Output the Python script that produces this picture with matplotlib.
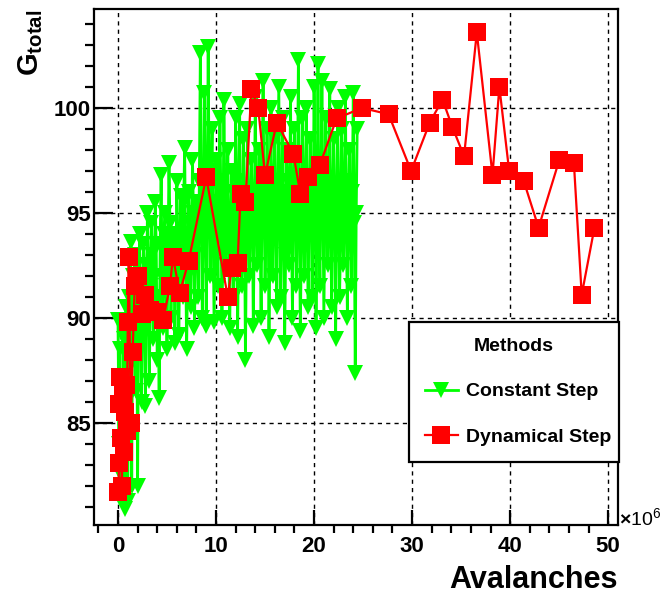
import matplotlib
matplotlib.use("Agg")
import matplotlib.pyplot as plt

plt.rcParams["font.family"] = ["Liberation Sans", "DejaVu Sans"]
plt.rcParams["font.weight"] = "bold"
plt.rcParams["mathtext.fontset"] = "custom"
plt.rcParams["mathtext.rm"] = "Liberation Sans:bold"
plt.rcParams["mathtext.bf"] = "Liberation Sans:bold"

# Constant step: gain vs number of avalanches (x in units of 1e6)
const_x = [0.0, 0.1, 0.2, 0.3, 0.4, 0.5, 0.6, 0.7, 0.8, 0.9, 1.0,
           1.1, 1.2, 1.3, 1.4, 1.5, 1.6, 1.7, 1.8, 1.9, 2.0,
           2.1, 2.2, 2.3, 2.4, 2.5, 2.6, 2.7, 2.8, 2.9, 3.0,
           3.1, 3.2, 3.3, 3.4, 3.5, 3.6, 3.7, 3.8, 3.9, 4.0,
           4.1, 4.2, 4.3, 4.4, 4.5, 4.6, 4.7, 4.8, 4.9, 5.0,
           5.1, 5.2, 5.3, 5.4, 5.5, 5.6, 5.7, 5.8, 5.9, 6.0,
           6.1, 6.2, 6.3, 6.4, 6.5, 6.6, 6.7, 6.8, 6.9, 7.0,
           7.1, 7.2, 7.3, 7.4, 7.5, 7.6, 7.7, 7.8, 7.9, 8.0,
           8.1, 8.2, 8.3, 8.4, 8.5, 8.6, 8.7, 8.8, 8.9, 9.0,
           9.1, 9.2, 9.3, 9.4, 9.5, 9.6, 9.7, 9.8, 9.9, 10.0,
           10.1, 10.2, 10.3, 10.4, 10.5, 10.6, 10.7, 10.8, 10.9, 11.0,
           11.1, 11.2, 11.3, 11.4, 11.5, 11.6, 11.7, 11.8, 11.9, 12.0,
           12.1, 12.2, 12.3, 12.4, 12.5, 12.6, 12.7, 12.8, 12.9, 13.0,
           13.1, 13.2, 13.3, 13.4, 13.5, 13.6, 13.7, 13.8, 13.9, 14.0,
           14.1, 14.2, 14.3, 14.4, 14.5, 14.6, 14.7, 14.8, 14.9, 15.0,
           15.1, 15.2, 15.3, 15.4, 15.5, 15.6, 15.7, 15.8, 15.9, 16.0,
           16.1, 16.2, 16.3, 16.4, 16.5, 16.6, 16.7, 16.8, 16.9, 17.0,
           17.1, 17.2, 17.3, 17.4, 17.5, 17.6, 17.7, 17.8, 17.9, 18.0,
           18.1, 18.2, 18.3, 18.4, 18.5, 18.6, 18.7, 18.8, 18.9, 19.0,
           19.1, 19.2, 19.3, 19.4, 19.5, 19.6, 19.7, 19.8, 19.9, 20.0,
           20.1, 20.2, 20.3, 20.4, 20.5, 20.6, 20.7, 20.8, 20.9, 21.0,
           21.1, 21.2, 21.3, 21.4, 21.5, 21.6, 21.7, 21.8, 21.9, 22.0,
           22.1, 22.2, 22.3, 22.4, 22.5, 22.6, 22.7, 22.8, 22.9, 23.0,
           23.1, 23.2, 23.3, 23.4, 23.5, 23.6, 23.7, 23.8, 23.9, 24.0,
           24.1, 24.2, 24.3, 24.4]
const_y = [89.9, 84.0, 88.5, 82.5, 87.0, 85.5, 89.0, 80.9, 90.5, 86.0, 81.3,
           91.0, 84.5, 93.6, 82.0, 92.0, 88.0, 93.0, 86.5, 92.5, 82.0,
           90.5, 94.0, 91.0, 86.0, 89.5, 93.5, 92.0, 85.8, 90.5, 95.0,
           92.5, 87.0, 91.5, 94.5, 93.0, 89.0, 92.0, 95.5, 93.5, 88.0,
           91.0, 86.2, 93.5, 96.8, 92.0, 89.5, 94.0, 95.0, 91.5, 88.5,
           93.0, 97.4, 94.5, 90.0, 92.5, 94.0, 93.5, 88.8, 92.0, 96.5,
           94.0, 89.2, 92.5, 95.8, 94.0, 91.0, 95.5, 98.1, 93.0, 88.5,
           92.0, 96.0, 94.5, 90.5, 93.5, 97.5, 95.0, 89.5, 93.0, 95.5,
           94.0, 91.0, 96.5, 102.6, 95.0, 90.0, 94.5, 100.7, 96.0, 89.6,
           95.5, 102.9, 96.0, 92.0, 97.0, 99.0, 94.5, 89.8, 93.5, 97.5,
           94.0, 91.5, 96.5, 99.5, 95.5, 90.0, 93.0, 100.4, 96.0, 92.5,
           95.0, 98.0, 93.5, 89.5, 94.5, 97.0, 96.0, 91.0, 94.0, 99.5,
           96.5, 89.1, 94.0, 100.2, 95.5, 91.5, 93.0, 98.5, 95.0, 88.0,
           93.5, 99.0, 96.0, 92.0, 94.5, 97.5, 95.5, 89.6, 94.0, 100.5,
           96.0, 92.5, 95.0, 98.0, 94.0, 90.0, 96.5, 101.3, 95.5, 91.5,
           94.5, 99.0, 96.0, 89.1, 93.5, 100.0, 95.0, 92.0, 96.5, 98.5,
           94.0, 90.5, 95.5, 101.0, 96.0, 91.0, 94.5, 99.5, 95.0, 88.8,
           93.0, 98.0, 96.5, 92.5, 95.0, 100.5, 94.0, 90.0, 96.0, 99.0,
           95.5, 91.5, 96.0, 102.3, 94.5, 89.4, 93.5, 99.5, 96.5, 92.0,
           95.0, 100.0, 94.0, 90.5, 96.0, 98.5, 95.5, 91.0, 94.5, 101.0,
           96.5, 89.5, 95.0, 102.1, 94.0, 91.5, 96.0, 101.3, 95.5, 90.0,
           94.5, 99.5, 96.5, 92.5, 95.0, 100.9, 94.0, 90.5, 96.0, 98.5,
           95.5, 89.0, 94.5, 100.0, 96.0, 91.0, 93.5, 99.0, 95.0, 92.5,
           96.5, 100.5, 94.0, 90.0, 95.5, 98.0, 94.5, 91.5, 96.0, 100.7,
           94.5, 87.4, 95.0, 99.0]

# Dynamical step
dyn_x = [0.05, 0.1, 0.15, 0.2, 0.3, 0.4, 0.5, 0.6, 0.7, 0.8, 0.9, 1.0,
         1.1, 1.3, 1.5, 1.7, 2.0, 2.4, 2.8, 3.3, 4.0, 4.6, 5.3, 5.6, 6.3,
         7.2, 9.0, 11.2, 11.6, 12.2, 12.5, 13.0, 13.6, 14.3, 15.0, 16.2,
         17.9, 18.6, 19.4, 20.6, 22.3, 24.9, 27.6, 29.9, 31.8, 33.1, 34.1,
         35.3, 36.6, 38.2, 38.9, 39.9, 41.4, 42.9, 45.0, 46.5, 47.3, 48.6]
dyn_y = [81.7, 83.1, 85.9, 87.2, 84.3, 82.0, 86.4, 83.6, 85.5, 86.8, 84.6, 89.8,
         92.9, 85.0, 88.4, 91.5, 92.0, 90.2, 91.1, 90.4, 90.3, 89.9, 91.5, 92.9, 91.2,
         92.7, 96.7, 91.0, 92.4, 92.6, 95.9, 95.5, 100.9, 100.0, 96.8, 99.3,
         97.8, 95.9, 96.7, 97.3, 99.5, 100.0, 99.7, 97.0, 99.3, 100.4, 99.1,
         97.7, 103.6, 96.8, 101.0, 97.0, 96.5, 94.3, 97.5, 97.4, 91.1, 94.3]

x_ticks = [0, 10, 20, 30, 40, 50]
y_ticks = [85, 90, 95, 100]

fig = plt.figure(figsize=(6.66, 5.94), dpi=100)
ax = fig.add_axes([0.1411, 0.1162, 0.7868, 0.8686])

ax.plot(const_x, const_y, color="#00ff00", lw=2.0, marker="v", ms=12,
        mew=0, label="Constant Step")
ax.plot(dyn_x, dyn_y, color="#ff0000", lw=1.6, marker="s", ms=13,
        mew=0, label="Dynamical Step")

ax.set_xlim(-2.45, 51.0)
ax.set_ylim(80.14, 104.71)
ax.set_xticks(x_ticks)
ax.set_xticks(range(-2, 52, 2), minor=True)
ax.set_yticks(y_ticks)
ax.set_yticks(range(81, 105), minor=True)
ax.set_axisbelow(True)
ax.grid(True, which="major", color="black", lw=1.0, ls=(0, (3, 3)))

for s in ax.spines.values():
    s.set_linewidth(1.6)
ax.tick_params(axis="both", direction="in", width=1.6, labelsize=16,
               top=False, right=False)
ax.tick_params(axis="y", which="major", length=13.5, pad=2)
ax.tick_params(axis="y", which="minor", length=6.5, width=1.6)
ax.tick_params(axis="x", which="major", length=11, pad=8)
ax.tick_params(axis="x", which="minor", length=6, width=1.6)

fig.text(618 / 666, 1 - 588 / 594, "Avalanches", fontsize=22,
         ha="right", va="baseline")
fig.text(31 / 666, 1 - 10 / 594, r"$\mathrm{G}_{\mathrm{total}}$", fontsize=21,
         rotation=90, ha="center", va="top")
fig.text(619 / 666, 1 - 526 / 594, r"$\times$10$^{\mathregular{6}}$",
         fontsize=14, fontweight="normal", ha="left", va="baseline")

leg = ax.legend(title="Methods", loc="upper left",
                bbox_to_anchor=(409 / 666, 1 - 328 / 594, 210 / 666, 0.01),
                bbox_transform=fig.transFigure, mode="expand",
                borderaxespad=0,
                fontsize=14, title_fontsize=14, numpoints=1,
                handlelength=1.7, handletextpad=0.45, labelspacing=1.45,
                borderpad=0.8, fancybox=False, framealpha=1,
                edgecolor="black")
leg.get_frame().set_linewidth(1.6)
leg.get_title().set_fontweight("bold")

fig.savefig("out.png", dpi=100)
